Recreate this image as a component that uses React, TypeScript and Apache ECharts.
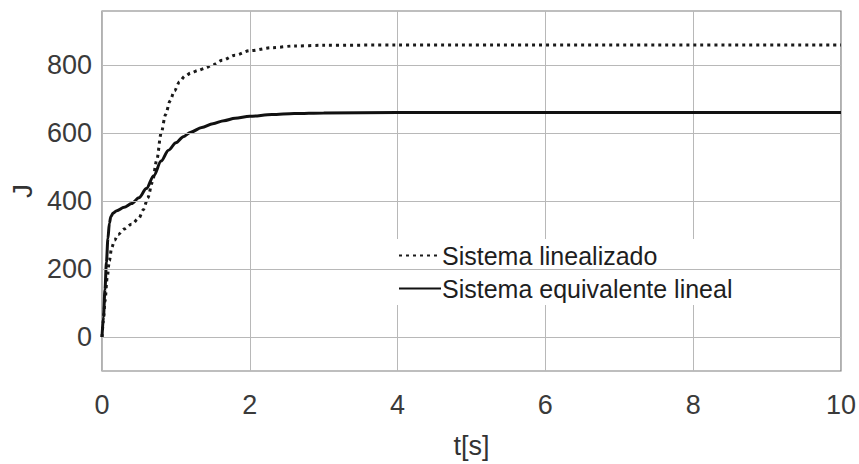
import React, { useEffect, useRef } from "react";
import * as echarts from "echarts";

// Time samples [s] and response J for the linearized system (dotted)
const tLin = [0, 0.02, 0.04, 0.07, 0.1, 0.13, 0.17, 0.22, 0.3, 0.4, 0.5, 0.56, 0.62, 0.68, 0.74, 0.8, 0.86, 0.92, 0.98, 1.05, 1.12, 1.2, 1.3, 1.4, 1.5, 1.63, 1.8, 2.0, 2.3, 2.6, 3.0, 4.0, 10.0];
const jLin = [0, 50, 105, 175, 225, 262, 285, 302, 318, 332, 350, 375, 410, 455, 520, 600, 655, 695, 725, 752, 768, 777, 785, 792, 802, 815, 830, 843, 852, 857, 859, 860, 860];

// Time samples [s] and response J for the equivalent linear system (solid)
const tEq = [0, 0.02, 0.04, 0.06, 0.08, 0.1, 0.12, 0.15, 0.2, 0.3, 0.4, 0.5, 0.6, 0.7, 0.8, 0.9, 1.0, 1.1, 1.2, 1.35, 1.5, 1.65, 1.8, 2.0, 2.3, 2.6, 3.0, 4.0, 6.0, 10.0];
const jEq = [0, 60, 140, 220, 290, 335, 355, 365, 372, 382, 393, 410, 437, 475, 518, 550, 572, 590, 603, 617, 628, 637, 644, 650, 655, 658, 660, 661, 661, 661];

// Horizontal grid lines / labelled ticks on the J axis
const yTicks = [0, 200, 400, 600, 800];

const seriesNames = ["Sistema linealizado", "Sistema equivalente lineal"];

const FONT = "Liberation Sans, Arial, Helvetica, sans-serif";

export default function App() {
  const ref = useRef<HTMLDivElement>(null);

  useEffect(() => {
    if (!ref.current) return;
    const chart = echarts.init(ref.current, null, { renderer: "svg" });

    const linData = tLin.map((t, i) => [t, jLin[i]]);
    const eqData = tEq.map((t, i) => [t, jEq[i]]);

    chart.setOption({
      animation: false,
      backgroundColor: "#ffffff",
      grid: {
        left: 102,
        right: 15,
        top: 11,
        bottom: 86,
        show: true,
        borderColor: "#7f7f7f",
        borderWidth: 1.2,
        backgroundColor: "transparent",
      },
      legend: {
        data: seriesNames,
        orient: "vertical",
        left: 396,
        top: 239,
        itemWidth: 42,
        itemHeight: 14,
        itemGap: 8,
        padding: [4, 6, 4, 2],
        backgroundColor: "#ffffff",
        itemStyle: { opacity: 0 },
        textStyle: { fontFamily: FONT, fontSize: 25, color: "#1e1e1e", padding: [0, 0, 0, -4] },
      },
      xAxis: {
        type: "value",
        min: 0,
        max: 10,
        interval: 2,
        name: "t[s]",
        nameLocation: "middle",
        nameGap: 61,
        nameTextStyle: { fontFamily: FONT, fontSize: 27, color: "#333333" },
        axisLine: { show: false },
        axisTick: { show: false },
        axisLabel: { fontFamily: FONT, fontSize: 27, color: "#3a3a3a", margin: 20 },
        splitLine: { show: true, lineStyle: { color: "#b8b8b8", width: 1 } },
      },
      yAxis: {
        type: "value",
        min: -100,
        max: 960,
        interval: 100,
        name: "J",
        nameLocation: "middle",
        nameGap: 62,
        nameTextStyle: { fontFamily: FONT, fontSize: 28, color: "#333333" },
        axisLine: { show: false },
        axisTick: { show: false },
        axisLabel: {
          fontFamily: FONT,
          fontSize: 27,
          color: "#3a3a3a",
          margin: 10,
          formatter: (v: number) => (yTicks.includes(v) ? String(v) : ""),
        },
        splitLine: { show: false },
      },
      series: [
        {
          name: "grid",
          type: "line",
          data: [],
          z: 1,
          silent: true,
          markLine: {
            silent: true,
            symbol: "none",
            label: { show: false },
            lineStyle: { color: "#b8b8b8", width: 1, type: "solid" },
            data: yTicks.map((v) => ({ yAxis: v })),
          },
        },
        {
          name: seriesNames[0],
          type: "line",
          data: linData,
          z: 3,
          symbol: "none",
          smooth: 0.3,
          smoothMonotone: "x",
          color: "#1a1a1a",
          lineStyle: { color: "#1a1a1a", width: 3, type: [3, 4] },
        },
        {
          name: seriesNames[1],
          type: "line",
          data: eqData,
          z: 4,
          symbol: "none",
          smooth: 0.3,
          smoothMonotone: "x",
          color: "#111111",
          lineStyle: { color: "#111111", width: 3, type: "solid" },
        },
      ],
    });

    return () => chart.dispose();
  }, []);

  return <div ref={ref} style={{ width: 859, height: 464, position: "absolute", left: 0, top: 0 }} />;
}
